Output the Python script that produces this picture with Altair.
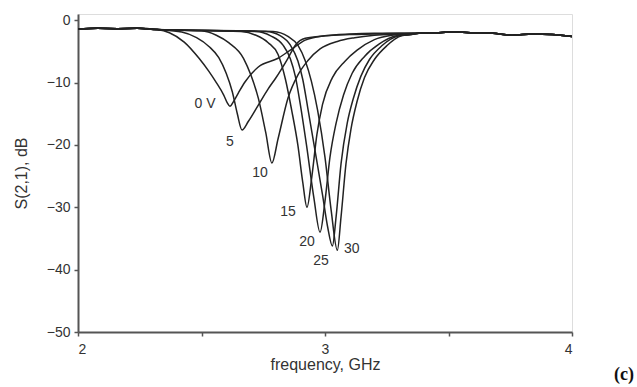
import altair as alt
import pandas as pd

# shared flat stretches
base_f = [2.0, 2.08, 2.16, 2.24, 2.32]
base_db = [-1.4, -1.3, -1.35, -1.3, -1.5]
tail_f = [3.38, 3.45, 3.52, 3.60, 3.68, 3.76, 3.84, 3.92, 4.0]
tail_db = [-2.1, -2.0, -1.9, -2.0, -2.1, -2.4, -2.2, -2.3, -2.6]

# individual curves (bias voltage)
v0_f = [2.37, 2.43, 2.49, 2.53, 2.56, 2.59, 2.605, 2.615, 2.63, 2.65, 2.676, 2.73, 2.81, 2.87, 2.92, 3.0, 3.1, 3.2, 3.3]
v0_db = [-2.0, -3.5, -6.1, -8.2, -10.0, -12.0, -13.3, -13.8, -13.0, -11.6, -9.9, -7.5, -6.1, -4.5, -3.2, -2.5, -2.2, -2.1, -2.1]

v5_f = [2.42, 2.48, 2.53, 2.57, 2.60, 2.625, 2.645, 2.664, 2.69, 2.73, 2.77, 2.80, 2.85, 2.88, 2.92, 3.0, 3.1, 3.2, 3.3]
v5_db = [-1.9, -2.8, -4.2, -6.0, -8.5, -11.5, -15.0, -17.6, -16.2, -13.6, -11.0, -9.3, -6.1, -4.0, -2.9, -2.5, -2.3, -2.2, -2.1]

v10_f = [2.50, 2.56, 2.61, 2.67, 2.70, 2.73, 2.76, 2.785, 2.81, 2.85, 2.89, 2.93, 2.98, 3.05, 3.12, 3.2, 3.3]
v10_db = [-1.7, -2.4, -3.6, -6.1, -8.8, -12.5, -18.0, -22.9, -19.0, -12.5, -8.8, -6.5, -4.6, -3.4, -2.8, -2.4, -2.2]

v15_f = [2.66, 2.72, 2.77, 2.81, 2.84, 2.865, 2.89, 2.91, 2.927, 2.947, 2.967, 2.99, 3.03, 3.08, 3.13, 3.2, 3.27, 3.33]
v15_db = [-1.8, -2.4, -3.6, -5.5, -9.5, -14.4, -20.0, -26.0, -30.0, -25.0, -18.4, -13.5, -9.2, -6.6, -4.8, -3.1, -2.4, -2.2]

v20_f = [2.72, 2.78, 2.83, 2.86, 2.88, 2.90, 2.925, 2.955, 2.98, 3.0, 3.02, 3.045, 3.075, 3.11, 3.16, 3.22, 3.29, 3.34]
v20_db = [-1.8, -2.5, -4.0, -6.2, -9.0, -13.5, -20.0, -28.5, -34.0, -29.0, -22.0, -16.5, -12.0, -8.5, -5.8, -3.8, -2.5, -2.3]

v25_f = [2.76, 2.82, 2.86, 2.89, 2.91, 2.93, 2.96, 2.99, 3.01, 3.03, 3.045, 3.065, 3.09, 3.115, 3.145, 3.18, 3.23, 3.3, 3.35]
v25_db = [-1.8, -2.5, -4.0, -6.5, -9.5, -14.0, -21.0, -28.0, -33.0, -36.2, -31.5, -23.0, -16.5, -12.5, -9.0, -6.3, -4.1, -2.5, -2.3]

v30_f = [2.79, 2.85, 2.89, 2.92, 2.945, 2.97, 3.0, 3.025, 3.05, 3.065, 3.085, 3.105, 3.13, 3.16, 3.2, 3.25, 3.31, 3.35]
v30_db = [-1.8, -2.6, -4.0, -6.5, -9.8, -14.4, -22.0, -30.5, -36.9, -31.5, -23.0, -17.5, -13.0, -9.2, -6.3, -4.1, -2.5, -2.3]

# curve labels
lab_text = ["0 V", "5", "10", "15", "20", "25", "30"]
lab_f = [2.514, 2.615, 2.737, 2.85, 2.927, 2.984, 3.108]
lab_db = [-13.5, -19.6, -24.5, -30.8, -35.6, -38.6, -36.7]

curves = {"0": (v0_f, v0_db), "5": (v5_f, v5_db), "10": (v10_f, v10_db),
          "15": (v15_f, v15_db), "20": (v20_f, v20_db), "25": (v25_f, v25_db),
          "30": (v30_f, v30_db)}

rows = []
for name, (fs, ds) in curves.items():
    allf = base_f + fs + tail_f
    alld = base_db + ds + tail_db
    for f, d in zip(allf, alld):
        rows.append({"series": name, "f": f, "db": d})
df = pd.DataFrame(rows)
labels = pd.DataFrame({"t": lab_text, "f": lab_f, "db": lab_db})

FONT = "Liberation Sans"
xscale = alt.Scale(domain=[2, 4], nice=False, zero=False)
yscale = alt.Scale(domain=[-50, 1], nice=False, zero=False)

xaxis = alt.Axis(values=[2, 2.5, 3, 3.5, 4], labelExpr="datum.value % 1 == 0 ? datum.label : ''",
                 format="~g", grid=False, domainColor="#555", domainWidth=2, tickColor="#555",
                 tickWidth=1.5, tickSize=4, labelFont=FONT, labelFontSize=14, labelColor="#333",
                 labelPadding=6, title="frequency, GHz", titleFont=FONT, titleFontSize=16,
                 titleFontWeight="normal", titleColor="#333", titlePadding=0)
yaxis = alt.Axis(values=[-50, -45, -40, -35, -30, -25, -20, -15, -10, -5, 0],
                 labelExpr="datum.value % 10 == 0 ? datum.label : ''",
                 grid=False, domainColor="#555", domainWidth=2, tickColor="#555",
                 tickWidth=1.5, tickSize=4, labelFont=FONT, labelFontSize=14, labelColor="#333",
                 labelPadding=4, title="S(2,1), dB", titleFont=FONT, titleFontSize=16,
                 titleFontWeight="normal", titleColor="#333", titlePadding=17)

lines = alt.Chart(df).mark_line(color="#222", strokeWidth=1.5, interpolate="monotone").encode(
    x=alt.X("f:Q", scale=xscale, axis=xaxis),
    y=alt.Y("db:Q", scale=yscale, axis=yaxis),
    detail="series:N",
    order="f:Q",
)

texts = alt.Chart(labels).mark_text(font=FONT, fontSize=14, color="#333", align="center",
                                    baseline="middle").encode(
    x=alt.X("f:Q", scale=xscale),
    y=alt.Y("db:Q", scale=yscale),
    text="t:N",
)

tag = alt.Chart(pd.DataFrame({"t": ["(c)"]})).mark_text(
    font="Liberation Serif", fontSize=18, fontWeight="bold", color="#111", align="center",
    baseline="middle").encode(x=alt.value(546), y=alt.value(361), text="t:N")

chart = (lines + texts + tag).properties(
    width=494, height=318,
    autosize=alt.AutoSizeParams(type="none"),
    padding={"left": 78, "top": 14, "right": 65, "bottom": 55},
).configure_view(stroke=None).configure(background="white")

chart.save("out.html", embed_options={"renderer": "svg", "actions": False})
